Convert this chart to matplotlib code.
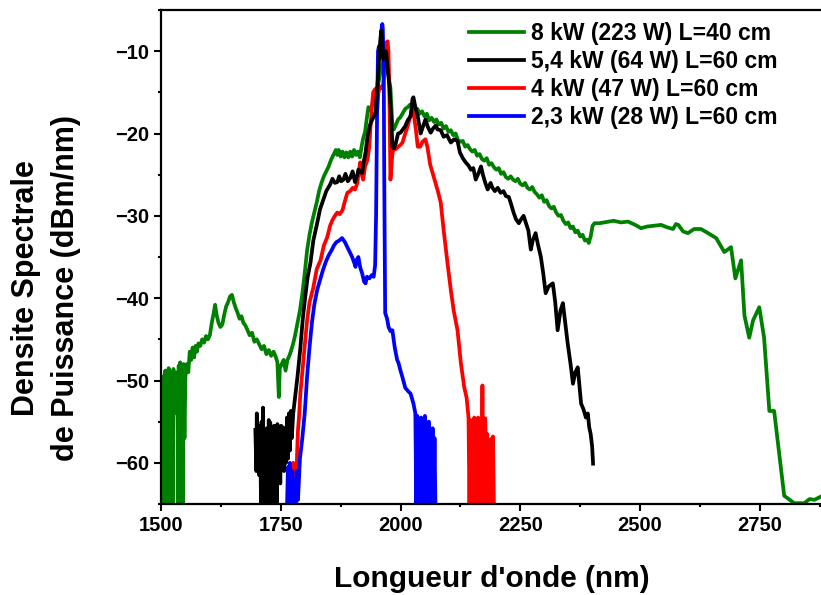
import matplotlib.pyplot as plt
from matplotlib.ticker import MultipleLocator

plt.rcParams['font.family'] = ['Liberation Sans', 'DejaVu Sans']
plt.rcParams['font.weight'] = 'bold'

# 8 kW (223 W) L=40 cm
green_wl = [1500, 1501, 1503, 1505, 1506, 1508, 1509, 1511, 1512, 1514, 1516, 1518, 1519, 1521, 1523,
            1525, 1526, 1528, 1530, 1532, 1534, 1536, 1537, 1539, 1540, 1542, 1544, 1546, 1547, 1549,
            1551, 1554, 1557, 1560, 1563, 1566, 1569, 1572, 1575, 1578, 1582, 1586, 1590, 1594, 1598,
            1602, 1606, 1610, 1613, 1616, 1620, 1624, 1628, 1632, 1636, 1640, 1644, 1648, 1652, 1656,
            1660, 1664, 1668, 1672, 1676, 1680, 1685, 1690, 1695, 1700, 1705, 1710, 1715, 1720, 1725,
            1730, 1735, 1740, 1743, 1746, 1748, 1752, 1756, 1760, 1764, 1768, 1772, 1776, 1780, 1785,
            1790, 1795, 1800, 1805, 1810, 1815, 1820, 1825, 1830, 1835, 1840, 1845, 1850, 1855, 1860,
            1865, 1868, 1871, 1875, 1879, 1883, 1887, 1891, 1895, 1899, 1903, 1907, 1911, 1915, 1919,
            1922, 1926, 1930, 1933, 1937, 1941, 1945, 1950, 1955, 1960, 1965, 1970, 1975, 1979, 1983,
            1986, 1990, 1995, 2000, 2005, 2010, 2015, 2020, 2025, 2030, 2035, 2040, 2045, 2050, 2055,
            2060, 2065, 2070, 2075, 2080, 2085, 2090, 2095, 2100, 2105, 2110, 2115, 2120, 2125, 2130,
            2135, 2140, 2145, 2150, 2155, 2160, 2165, 2170, 2175, 2180, 2185, 2190, 2195, 2200, 2205,
            2210, 2215, 2220, 2225, 2230, 2235, 2240, 2245, 2250, 2255, 2260, 2265, 2270, 2275, 2280,
            2285, 2290, 2295, 2300, 2305, 2310, 2315, 2320, 2325, 2330, 2335, 2340, 2345, 2350, 2355,
            2360, 2365, 2370, 2375, 2380, 2385, 2390, 2393, 2397, 2401, 2405, 2415, 2425, 2435, 2445,
            2460, 2475, 2490, 2502, 2515, 2530, 2544, 2557, 2569, 2575, 2580, 2590, 2600, 2613, 2627,
            2642, 2659, 2676, 2690, 2699, 2711, 2718, 2728, 2736, 2749, 2759, 2770, 2780, 2801, 2822,
            2843, 2854, 2864, 2881]
green_db = [-50.0, -65.5, -49.5, -65.5, -51.0, -65.5, -48.8, -65.5, -50.5, -65.5, -48.5, -65.5, -49.0, -65.5, -50.0,
            -65.5, -48.6, -54.0, -50.5, -52.0, -49.0, -65.5, -48.2, -65.5, -47.8, -65.5, -49.0, -65.5, -48.0, -57.0,
            -49.5, -48.0, -49.0, -46.5, -47.5, -46.0, -47.2, -45.8, -46.5, -45.5, -45.8, -45.0, -45.4, -44.6, -45.0,
            -44.5, -43.0, -41.8, -40.8, -42.0, -43.0, -43.5, -43.2, -42.0, -41.0, -40.5, -39.8, -39.6, -40.5, -41.2,
            -41.8, -42.5, -42.2, -43.0, -43.3, -43.8, -44.5, -44.2, -45.3, -45.0, -45.6, -46.2, -45.8, -46.8, -46.3,
            -47.0, -46.5, -47.2, -47.8, -52.0, -48.5, -48.0, -47.5, -48.8, -47.5, -47.0, -46.3, -45.5, -44.5, -43.0,
            -41.5, -39.5, -37.0, -34.2, -32.3, -30.8, -29.6, -28.4, -27.0, -26.0, -25.2, -24.6, -24.0, -23.2, -22.6,
            -22.0, -22.6, -22.0, -22.8, -22.2, -22.9, -22.3, -22.9, -22.2, -22.8, -22.0, -22.6, -22.2, -22.9, -21.5,
            -20.6, -19.8, -18.0, -16.8, -17.2, -16.5, -15.5, -15.0, -13.5, -12.0, -11.0, -11.5, -13.0, -14.5, -19.0,
            -19.5, -19.0, -18.3, -18.0, -17.5, -17.0, -16.8, -16.5, -16.8, -17.2, -17.0, -17.6, -17.3, -17.9, -17.6,
            -18.4, -18.1, -18.6, -18.3, -18.9, -18.7, -19.4, -19.1, -19.8, -19.6, -20.2, -20.0, -20.8, -21.0, -20.9,
            -21.6, -21.4, -21.9, -22.2, -22.0, -22.7, -22.5, -23.1, -23.3, -23.0, -23.8, -23.6, -24.1, -24.4, -24.2,
            -24.9, -24.7, -25.3, -25.5, -25.2, -25.6, -25.8, -25.5, -26.1, -26.3, -26.0, -26.6, -26.8, -26.5, -27.1,
            -27.4, -27.8, -27.5, -28.3, -28.1, -28.8, -29.1, -28.9, -29.6, -30.0, -29.9, -30.6, -31.0, -30.8, -31.5,
            -31.3, -32.0, -31.8, -32.5, -32.3, -33.0, -32.9, -33.3, -32.5, -31.2, -30.9, -30.9, -30.8, -30.7, -30.6,
            -30.8, -30.7, -31.1, -31.5, -31.3, -31.2, -31.1, -31.4, -31.6, -31.0, -31.1, -31.9, -32.1, -31.6, -31.6,
            -32.1, -32.7, -34.4, -33.8, -37.6, -35.4, -42.1, -44.8, -42.7, -41.1, -44.8, -53.7, -53.7, -64.0, -64.9,
            -64.9, -64.4, -64.5, -64.0]

# 5,4 kW (64 W) L=60 cm
black_wl = [1697, 1699, 1700, 1702, 1704, 1705, 1707, 1709, 1710, 1712, 1713, 1715, 1717, 1719, 1721,
            1723, 1725, 1727, 1728, 1730, 1732, 1734, 1736, 1738, 1740, 1742, 1743, 1745, 1747, 1749,
            1751, 1753, 1755, 1757, 1759, 1761, 1763, 1765, 1767, 1769, 1771, 1773, 1776, 1780, 1785,
            1791, 1796, 1801, 1806, 1812, 1818, 1826, 1832, 1839, 1845, 1853, 1858, 1863, 1868, 1872,
            1876, 1881, 1885, 1890, 1895, 1900, 1905, 1910, 1912, 1916, 1920, 1923, 1927, 1931, 1936,
            1941, 1944, 1948, 1951, 1954, 1958, 1960, 1962, 1964, 1967, 1970, 1973, 1977, 1981, 1983,
            1986, 1990, 1995, 2000, 2005, 2010, 2015, 2021, 2025, 2027, 2031, 2036, 2042, 2046, 2052,
            2057, 2063, 2068, 2074, 2077, 2084, 2090, 2097, 2105, 2112, 2119, 2124, 2130, 2136, 2142,
            2147, 2152, 2157, 2163, 2168, 2172, 2177, 2182, 2188, 2192, 2197, 2203, 2209, 2215, 2220,
            2226, 2231, 2236, 2241, 2247, 2252, 2257, 2262, 2267, 2272, 2276, 2282, 2287, 2293, 2298,
            2303, 2309, 2318, 2323, 2328, 2334, 2339, 2344, 2349, 2355, 2360, 2365, 2370, 2374, 2377,
            2382, 2387, 2391, 2394, 2397, 2400, 2402]
black_db = [-56.0, -61.0, -54.0, -60.5, -55.5, -61.5, -57.0, -65.5, -55.0, -65.5, -53.3, -65.5, -56.5, -65.5, -55.8,
            -65.5, -54.8, -65.5, -55.1, -65.5, -56.0, -63.0, -55.5, -65.5, -56.2, -65.5, -55.3, -61.0, -56.0, -62.5,
            -55.5, -60.5, -55.7, -61.0, -56.5, -60.0, -54.5, -59.5, -54.0, -58.5, -53.7, -57.0, -54.0, -52.0, -49.5,
            -46.0, -42.5, -39.9, -37.5, -35.7, -33.0, -30.9, -29.2, -28.0, -27.0, -26.2, -25.5, -26.0, -25.9, -25.2,
            -25.8, -25.6, -24.9, -25.8, -25.4, -24.6, -25.9, -25.0, -24.4, -24.6, -24.8, -23.5, -22.3, -20.4, -19.0,
            -18.3, -18.0, -17.4, -15.0, -12.2, -8.5, -7.5, -9.0, -11.0, -10.5, -10.0, -12.0, -14.3, -18.5, -21.6,
            -21.8, -21.2, -20.0, -19.9, -19.5, -19.1, -18.4, -17.9, -15.8, -15.6, -16.8, -17.9, -20.0, -19.3, -18.3,
            -19.2, -19.9, -19.4, -19.0, -19.5, -19.6, -20.4, -20.2, -21.1, -20.7, -20.9, -22.3, -23.0, -23.5, -23.9,
            -24.4, -24.2, -25.6, -24.8, -24.0, -25.0, -26.0, -26.8, -26.0, -26.6, -27.0, -26.6, -27.2, -27.0, -27.6,
            -27.7, -28.6, -29.6, -30.4, -30.9, -30.4, -30.0, -30.9, -31.8, -34.1, -33.0, -32.1, -33.5, -35.0, -37.0,
            -39.4, -38.6, -38.2, -40.5, -43.9, -41.5, -40.6, -43.0, -45.5, -48.0, -50.4, -49.0, -48.4, -51.0, -52.8,
            -53.5, -54.5, -54.0, -55.7, -56.5, -58.0, -60.1]

# 4 kW (47 W) L=60 cm
red_wl = [1774, 1776, 1778, 1780, 1782, 1784, 1786, 1788, 1791, 1795, 1800, 1805, 1810, 1818, 1825,
          1833, 1840, 1847, 1853, 1858, 1863, 1868, 1873, 1879, 1884, 1889, 1895, 1900, 1905, 1910,
          1913, 1916, 1919, 1922, 1926, 1931, 1935, 1937, 1940, 1943, 1947, 1949, 1951, 1954, 1957,
          1960, 1964, 1967, 1970, 1973, 1975, 1977, 1979, 1981, 1983, 1986, 1990, 1995, 2000, 2004,
          2010, 2015, 2020, 2025, 2028, 2032, 2036, 2041, 2046, 2052, 2056, 2062, 2068, 2073, 2078,
          2084, 2090, 2098, 2105, 2111, 2119, 2126, 2133, 2138, 2142, 2144, 2146, 2148, 2150, 2152,
          2154, 2156, 2158, 2160, 2162, 2164, 2166, 2168, 2170, 2171, 2173, 2175, 2177, 2179, 2181,
          2183, 2185, 2187, 2189, 2191, 2193, 2195]
red_db = [-65.5, -60.0, -65.5, -61.5, -65.5, -59.0, -56.0, -54.5, -51.5, -49.0, -45.8, -42.7, -40.5, -38.7, -36.5,
          -35.4, -33.6, -32.6, -31.2, -30.5, -30.0, -29.6, -29.8, -29.3, -28.2, -27.2, -27.0, -26.6, -26.8, -26.0,
          -24.5, -23.5, -25.0, -25.6, -24.0, -23.2, -21.5, -19.5, -17.0, -15.0, -14.6, -16.0, -17.4, -15.0, -14.3,
          -14.5, -14.0, -11.0, -9.0, -8.8, -10.1, -16.0, -25.6, -24.0, -22.5, -21.6, -21.9, -21.6, -21.4, -21.1,
          -20.0, -19.1, -18.0, -17.1, -17.8, -19.5, -21.6, -21.6, -21.0, -20.7, -21.6, -23.8, -25.0, -26.0, -27.0,
          -28.4, -31.7, -35.7, -39.0, -41.5, -43.9, -47.9, -50.8, -52.1, -54.5, -65.5, -54.8, -65.5, -55.0, -65.5,
          -54.5, -65.5, -55.5, -65.5, -54.5, -65.5, -56.0, -65.5, -57.0, -50.6, -65.5, -55.0, -54.6, -65.5, -56.5,
          -65.5, -57.5, -65.5, -57.1, -65.5, -56.8, -65.5]

# 2,3 kW (28 W) L=60 cm
blue_wl = [1763, 1765, 1767, 1769, 1771, 1773, 1775, 1777, 1780, 1783, 1786, 1790, 1795, 1800, 1805,
           1810, 1815, 1820, 1826, 1832, 1838, 1844, 1850, 1856, 1861, 1866, 1872, 1878, 1884, 1889,
           1894, 1899, 1904, 1906, 1909, 1912, 1916, 1920, 1924, 1927, 1930, 1935, 1940, 1944, 1947,
           1949, 1951, 1953, 1955, 1957, 1959, 1961, 1962, 1963, 1965, 1966, 1968, 1972, 1975, 1979,
           1983, 1988, 1993, 1996, 2000, 2004, 2010, 2016, 2021, 2025, 2027, 2031, 2033, 2035, 2037,
           2039, 2041, 2043, 2045, 2047, 2049, 2051, 2053, 2055, 2057, 2059, 2061, 2063, 2065, 2067,
           2069, 2071, 2073]
blue_db = [-65.5, -60.5, -65.5, -60.0, -65.5, -61.0, -65.5, -62.0, -65.5, -61.0, -64.5, -59.5, -57.0, -54.0, -49.5,
           -46.0, -43.0, -40.8, -39.0, -37.8, -36.6, -35.6, -34.8, -34.2, -33.6, -33.2, -33.0, -32.7, -33.2, -33.8,
           -34.4, -35.0, -35.8, -36.2, -35.3, -35.0, -36.3, -37.0, -38.0, -38.2, -37.4, -37.6, -37.2, -37.4, -36.0,
           -30.0, -18.0, -10.0, -9.4, -10.5, -8.5, -7.0, -6.7, -7.2, -12.0, -25.0, -41.8, -42.5, -43.5, -44.0,
           -43.9, -46.0, -47.5, -47.9, -48.8, -49.6, -50.9, -51.3, -51.6, -52.4, -52.8, -54.0, -65.5, -54.3, -65.5,
           -54.8, -65.5, -54.5, -65.5, -55.5, -62.0, -54.3, -65.5, -56.0, -65.5, -55.0, -65.5, -56.5, -65.5, -55.8,
           -65.5, -57.0, -65.5]

fig = plt.figure(figsize=(8.21, 5.95), dpi=100)
ax = fig.add_axes([161 / 821, 91 / 595, 662 / 821, 494 / 595])

lw = 2.7
lg, = ax.plot(green_wl, green_db, color='#008000', lw=lw, label='8 kW (223 W) L=40 cm')
lr, = ax.plot(red_wl, red_db, color='#ff0000', lw=lw, label='4 kW (47 W) L=60 cm')
lb, = ax.plot(blue_wl, blue_db, color='#0000ff', lw=lw, label='2,3 kW (28 W) L=60 cm')
lk, = ax.plot(black_wl, black_db, color='black', lw=lw, label='5,4 kW (64 W) L=60 cm')

ax.set_xlim(1500, 2882)
ax.set_ylim(-65, -5)
ax.xaxis.set_major_locator(MultipleLocator(250))
ax.xaxis.set_minor_locator(MultipleLocator(125))
ax.yaxis.set_major_locator(MultipleLocator(10))
ax.yaxis.set_minor_locator(MultipleLocator(5))
ax.tick_params(which='major', direction='out', length=5, width=1.5, labelsize=14.5)
ax.tick_params(which='minor', direction='out', length=2.5, width=1.5)
for s in ax.spines.values():
    s.set_linewidth(1.6)
ax.spines['right'].set_visible(False)

ax.set_xlabel("Longueur d'onde (nm)", fontsize=21.5, fontweight='bold', labelpad=22)
fig.text(46 / 821, 1 - 288 / 595, 'Densite Spectrale\nde Puissance (dBm/nm)', rotation=90,
         ha='center', va='center', multialignment='center', fontsize=22, fontweight='bold',
         linespacing=1.4)

ax.legend(handles=[lg, lk, lr, lb], loc='upper left', bbox_to_anchor=(469 / 821, 1 - 22 / 595),
          bbox_transform=fig.transFigure, frameon=False, fontsize=16.5, handlelength=2.4,
          handletextpad=0.3, labelspacing=0.22, borderpad=0, borderaxespad=0)

fig.savefig('out.png', dpi=100)
